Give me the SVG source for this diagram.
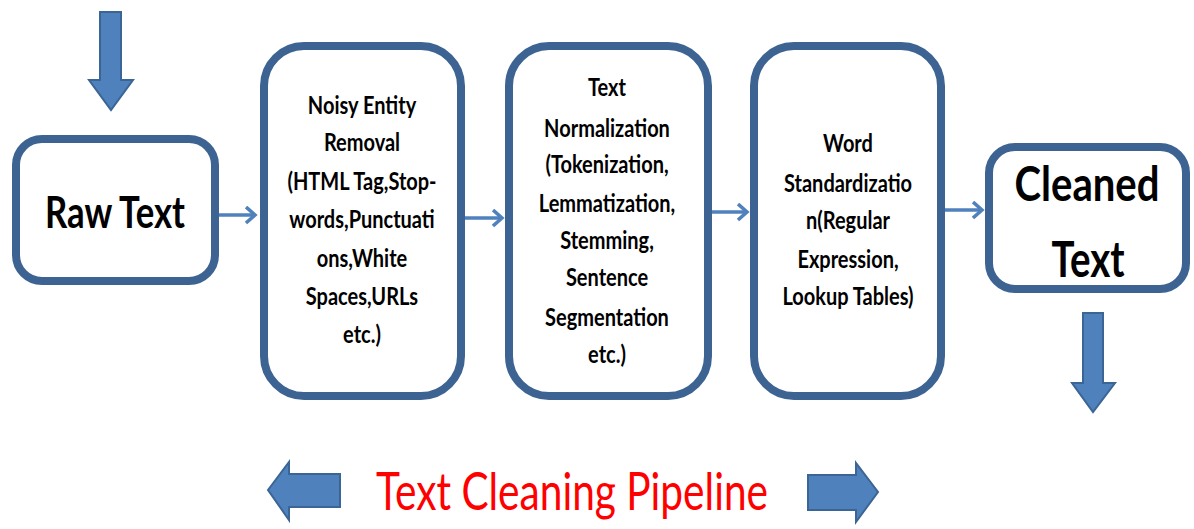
<svg xmlns="http://www.w3.org/2000/svg" width="1194" height="529" viewBox="0 0 1194 529">
  <style>
    .box { fill: #ffffff; stroke: #3c6391; stroke-width: 8; }
    .block { fill: #4f81bd; stroke: #3a6595; stroke-width: 2; }
    .link { fill: none; stroke: #4f81bd; stroke-width: 3.5; }
    .lbl { font-family: Lato, "Open Sans", sans-serif; font-weight: 700; font-size: 25px; fill: #000000; text-anchor: middle; }
    .big { font-family: Lato, "Open Sans", sans-serif; font-weight: 700; fill: #000000; text-anchor: middle; }
    .title { font-family: Lato, "Open Sans", sans-serif; font-weight: 400; fill: #ff0000; text-anchor: middle; }
  </style>
  <defs>
    <marker id="chev" markerUnits="userSpaceOnUse" markerWidth="14" markerHeight="20" refX="10" refY="9" orient="auto">
      <path d="M1,1 L10,9 L1,17" fill="none" stroke="#4f81bd" stroke-width="3.5"/>
    </marker>
  </defs>
  <rect width="1194" height="529" fill="#ffffff"/>

  <!-- input arrow -->
  <polygon class="block" points="100,12 121,12 121,80 133,80 111,110 89,80 100,80"/>

  <g id="raw-text">
    <rect class="box" x="16" y="139" width="199" height="142" rx="26"/>
    <text class="big" x="115" y="228" font-size="44" textLength="140" lengthAdjust="spacingAndGlyphs">Raw Text</text>
  </g>

  <g id="noisy-entity-removal">
    <rect class="box" x="264" y="46" width="197" height="350" rx="40"/>
    <g transform="translate(362 0) scale(0.8 1)">
      <text class="lbl" x="0" y="114">Noisy Entity</text>
      <text class="lbl" x="0" y="151">Removal</text>
      <text class="lbl" x="0" y="190">(HTML Tag,Stop-</text>
      <text class="lbl" x="0" y="228">words,Punctuati</text>
      <text class="lbl" x="0" y="267">ons,White</text>
      <text class="lbl" x="0" y="305">Spaces,URLs</text>
      <text class="lbl" x="0" y="343">etc.)</text>
    </g>
  </g>

  <g id="text-normalization">
    <rect class="box" x="509" y="46" width="199" height="350" rx="40"/>
    <g transform="translate(607 0) scale(0.8 1)">
      <text class="lbl" x="0" y="96">Text</text>
      <text class="lbl" x="0" y="137">Normalization</text>
      <text class="lbl" x="0" y="173">(Tokenization,</text>
      <text class="lbl" x="0" y="212">Lemmatization,</text>
      <text class="lbl" x="0" y="249">Stemming,</text>
      <text class="lbl" x="0" y="286">Sentence</text>
      <text class="lbl" x="0" y="326">Segmentation</text>
      <text class="lbl" x="0" y="363">etc.)</text>
    </g>
  </g>

  <g id="word-standardization">
    <rect class="box" x="754" y="46" width="187" height="350" rx="40"/>
    <g transform="translate(848 0) scale(0.8 1)">
      <text class="lbl" x="0" y="152">Word</text>
      <text class="lbl" x="0" y="192">Standardizatio</text>
      <text class="lbl" x="0" y="229">n(Regular</text>
      <text class="lbl" x="0" y="268">Expression,</text>
      <text class="lbl" x="0" y="305">Lookup Tables)</text>
    </g>
  </g>

  <g id="cleaned-text">
    <rect class="box" x="989" y="147" width="197" height="142" rx="26"/>
    <text class="big" x="1087" y="201" font-size="48" textLength="145" lengthAdjust="spacingAndGlyphs">Cleaned</text>
    <text class="big" x="1088" y="277" font-size="50" textLength="73" lengthAdjust="spacingAndGlyphs">Text</text>
  </g>

  <!-- output arrow -->
  <polygon class="block" points="1083,313 1103,313 1103,383 1115,383 1093,412 1072,383 1083,383"/>

  <g id="connectors">
    <line class="link" x1="219" y1="215" x2="255" y2="215" marker-end="url(#chev)"/>
    <line class="link" x1="465" y1="218" x2="502" y2="218" marker-end="url(#chev)"/>
    <line class="link" x1="712" y1="212" x2="747" y2="212" marker-end="url(#chev)"/>
    <line class="link" x1="945" y1="210" x2="982" y2="210" marker-end="url(#chev)"/>
  </g>

  <g id="pipeline-label">
    <polygon class="block" points="268,490 289,462 289,474 340,474 340,507 289,507 289,520"/>
    <text class="title" x="572" y="510" font-size="52" textLength="392" lengthAdjust="spacingAndGlyphs">Text Cleaning Pipeline</text>
    <polygon class="block" points="808,475 856,475 856,463 878,492 856,522 856,510 808,510"/>
  </g>
</svg>
